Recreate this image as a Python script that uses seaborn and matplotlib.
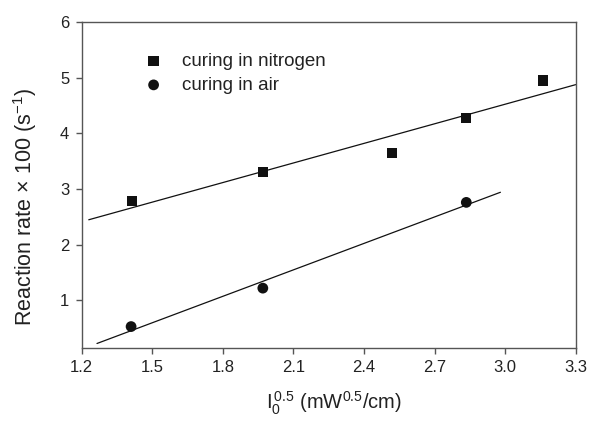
import numpy as np
import pandas as pd
import matplotlib
matplotlib.use("Agg")
import matplotlib.pyplot as plt
import seaborn as sns

# Data
x_nitrogen = [1.414, 1.97, 2.52, 2.835, 3.162]
y_nitrogen = [2.79, 3.31, 3.65, 4.28, 4.95]
x_air = [1.41, 1.97, 2.835]
y_air = [0.53, 1.22, 2.76]
labels = ["curing in nitrogen", "curing in air"]
xticks = [1.2, 1.5, 1.8, 2.1, 2.4, 2.7, 3.0, 3.3]
yticks = [1, 2, 3, 4, 5, 6]

sns.set_theme(style="ticks")
plt.rcParams["font.family"] = ["Liberation Sans", "DejaVu Sans"]
plt.rcParams["mathtext.fontset"] = "custom"
plt.rcParams["mathtext.rm"] = "Liberation Sans"
plt.rcParams["mathtext.it"] = "Liberation Sans"
plt.rcParams["mathtext.default"] = "regular"

txt = "#222222"
fig = plt.figure(figsize=(5.89, 4.22), dpi=100)
ax = fig.add_axes([0.1387, 0.176, 0.8387, 0.772])

df_n = pd.DataFrame({"x": x_nitrogen, "y": y_nitrogen})
df_a = pd.DataFrame({"x": x_air, "y": y_air})

sns.scatterplot(data=df_n, x="x", y="y", marker="s", s=55, color="#111111",
                edgecolor="none", label=labels[0], ax=ax, zorder=3)
sns.scatterplot(data=df_a, x="x", y="y", marker="o", s=60, color="#111111",
                edgecolor="none", label=labels[1], ax=ax, zorder=3)

# linear fits
for xs, ys, (x0, x1) in [(x_nitrogen, y_nitrogen, (1.23, 3.3)),
                         (x_air, y_air, (1.265, 2.98))]:
    k, b = np.polyfit(xs, ys, 1)
    xx = np.array([x0, x1])
    sns.lineplot(x=xx, y=k * xx + b, color="#111111", linewidth=0.9, ax=ax,
                 legend=False, zorder=2)

ax.set_xlim(1.2, 3.3)
ax.set_ylim(0.15, 6)
ax.set_xticks(xticks)
ax.set_xticklabels([f"{v:.1f}" for v in xticks])
ax.set_yticks(yticks)
ax.tick_params(axis="both", direction="out", length=4.5, width=1, colors="#555555",
               labelcolor=txt, labelsize=12, pad=4.5)
for sp in ax.spines.values():
    sp.set_color("#555555")
    sp.set_linewidth(1.0)
    sp.set_visible(True)

ax.set_xlabel(r"I$_0^{\,0.5}$ (mW$^{0.5}$/cm)", fontsize=14.5, color=txt)
ax.xaxis.set_label_coords(0.51, -0.13)
ax.set_ylabel(r"Reaction rate $\times$ 100 (s$^{-1}$)", fontsize=15.5, color=txt)
ax.yaxis.set_label_coords(-0.087, 0.432)

leg = ax.legend(loc="upper left", bbox_to_anchor=(0.1, 0.945), frameon=False,
                fontsize=13.5, handletextpad=1.0, labelspacing=0.35, handlelength=1.0,
                borderpad=0.2)
for t in leg.get_texts():
    t.set_color(txt)

fig.savefig("out.png", dpi=100)
